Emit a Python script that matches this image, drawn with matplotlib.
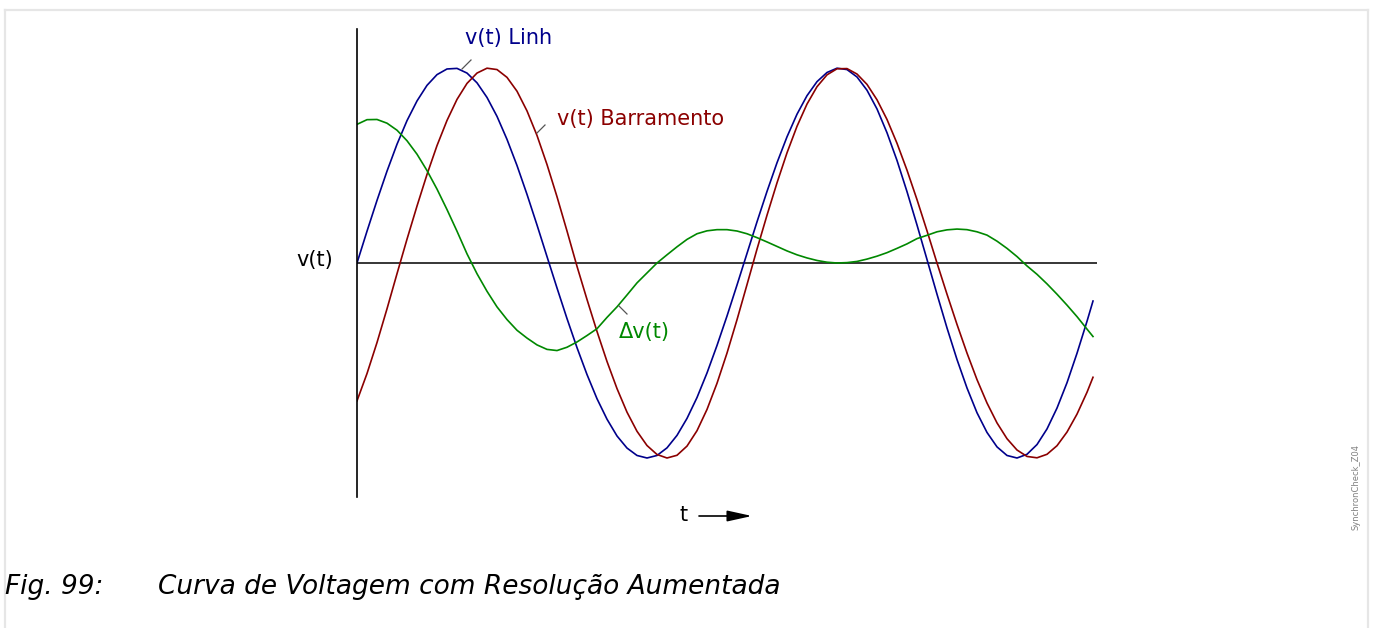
import matplotlib
matplotlib.use("Agg")
import matplotlib.pyplot as plt
import numpy as np
from matplotlib.lines import Line2D

# sample times (arbitrary units, axis spans 0..740)
t = np.append(np.arange(0, 740, 10), 736)

v_linh = [
    0.000, 0.163, 0.321, 0.471, 0.609, 0.730, 0.831, 0.911, 0.966, 0.995,
    0.998, 0.974, 0.924, 0.849, 0.752, 0.634, 0.500, 0.352, 0.195, 0.033,
    -0.128, -0.285, -0.434, -0.572, -0.696, -0.801, -0.887, -0.949, -0.987, -1.000,
    -0.987, -0.948, -0.884, -0.797, -0.690, -0.564, -0.423, -0.272, -0.113, 0.049,
    0.211, 0.367, 0.514, 0.647, 0.763, 0.858, 0.930, 0.977, 0.999, 0.992,
    0.954, 0.886, 0.790, 0.668, 0.526, 0.366, 0.195, 0.018, -0.160, -0.333,
    -0.495, -0.641, -0.768, -0.869, -0.943, -0.987, -1.000, -0.981, -0.931, -0.851,
    -0.744, -0.614, -0.463, -0.299, -0.195,
]

v_barramento = [
    -0.707, -0.567, -0.408, -0.235, -0.055, 0.122, 0.292, 0.454, 0.602, 0.731,
    0.839, 0.921, 0.974, 0.999, 0.992, 0.952, 0.881, 0.780, 0.654, 0.505,
    0.340, 0.164, -0.017, -0.187, -0.351, -0.505, -0.644, -0.765, -0.863, -0.936,
    -0.982, -1.000, -0.986, -0.939, -0.860, -0.751, -0.617, -0.462, -0.291, -0.111,
    0.071, 0.245, 0.411, 0.565, 0.701, 0.815, 0.904, 0.965, 0.996, 0.997,
    0.969, 0.916, 0.837, 0.736, 0.614, 0.476, 0.325, 0.165, 0.000, -0.160,
    -0.315, -0.462, -0.598, -0.718, -0.820, -0.901, -0.959, -0.992, -0.999, -0.981,
    -0.937, -0.867, -0.775, -0.663, -0.586,
]

dv = [
    0.711, 0.735, 0.736, 0.717, 0.681, 0.627, 0.558, 0.474, 0.379, 0.274,
    0.163, 0.047, -0.055, -0.145, -0.225, -0.290, -0.345, -0.385, -0.420, -0.443,
    -0.449, -0.432, -0.405, -0.372, -0.337, -0.279, -0.225, -0.164, -0.102, -0.051,
    0.000, 0.042, 0.083, 0.121, 0.150, 0.165, 0.171, 0.171, 0.164, 0.150,
    0.130, 0.108, 0.085, 0.062, 0.042, 0.026, 0.013, 0.004, 0.000, 0.002,
    0.008, 0.020, 0.035, 0.053, 0.075, 0.098, 0.125, 0.142, 0.160, 0.170,
    0.174, 0.171, 0.160, 0.143, 0.112, 0.075, 0.033, -0.015, -0.058, -0.107,
    -0.160, -0.216, -0.275, -0.339, -0.377,
]

BLUE = "#00008b"
RED = "#8b0000"
GREEN = "#008800"

W, H = 1374, 628
fig = plt.figure(figsize=(W / 100, H / 100), dpi=100)
plt.rcParams["font.family"] = ["DejaVu Sans"]

# axes box in pixels: x 357..1097, y 29..497
ax = fig.add_axes([357 / W, 1 - 497 / H, 740 / W, 468 / H])
ax.set_xlim(0, 740)
ax.set_ylim(-1.2, 1.2)
for s in ["top", "right", "bottom"]:
    ax.spines[s].set_visible(False)
ax.spines["left"].set_linewidth(1.2)
ax.set_xticks([])
ax.set_yticks([])
ax.axhline(0, color="black", lw=1.1)

ax.plot(t, v_linh, color=BLUE, lw=1.2)
ax.plot(t, v_barramento, color=RED, lw=1.2)
ax.plot(t, dv, color=GREEN, lw=1.2)


def px(x, y):
    # image pixel -> data coords of ax
    return (x - 357), (263 - y) / 195


# leader lines
for (x0, y0, x1, y1) in [(462, 69, 471, 60), (537, 133, 545, 125), (619, 306, 627, 314)]:
    a, b = px(x0, y0)
    c, d = px(x1, y1)
    ax.plot([a, c], [b, d], color="#555555", lw=0.9, clip_on=False)

ax.text(*px(465, 38), "v(t) Linh", color=BLUE, fontsize=15, va="center", ha="left")
ax.text(*px(557, 119), "v(t) Barramento", color=RED, fontsize=15, va="center", ha="left")
ax.text(*px(619, 332), "\u0394v(t)", color=GREEN, fontsize=15, va="center", ha="left")

fig.text(333 / W, 1 - 260 / H, "v(t)", fontsize=15, ha="right", va="center")
fig.text(684 / W, 1 - 515 / H, "t", fontsize=15, ha="center", va="center")
ax.annotate("", xy=(752, H - 516), xytext=(699, H - 516),
            xycoords="figure pixels", textcoords="figure pixels",
            arrowprops=dict(arrowstyle="-|>,head_length=1.0,head_width=0.22",
                            color="black", lw=1.2, mutation_scale=15,
                            shrinkA=0, shrinkB=0))

fig.text(5 / W, 1 - 587 / H, "Fig. 99:", fontsize=19, style="italic",
         ha="left", va="center")
fig.text(158 / W, 1 - 587 / H, "Curva de Voltagem com Resolução Aumentada",
         fontsize=19, style="italic", ha="left", va="center")
fig.text(1356 / W, 1 - 487 / H, "SynchronCheck_Z04", fontsize=6, color="#808080",
         rotation=90, ha="center", va="center")

# light frame around the figure
fc = "#e6e6e6"
fig.add_artist(Line2D([5 / W, 5 / W], [0, 1 - 10 / H], color=fc, lw=1.6))
fig.add_artist(Line2D([5 / W, 1368 / W], [1 - 10 / H, 1 - 10 / H], color=fc, lw=1.6))
fig.add_artist(Line2D([1368 / W, 1368 / W], [0, 1 - 10 / H], color=fc, lw=1.6))

fig.savefig("out.png", dpi=100)
